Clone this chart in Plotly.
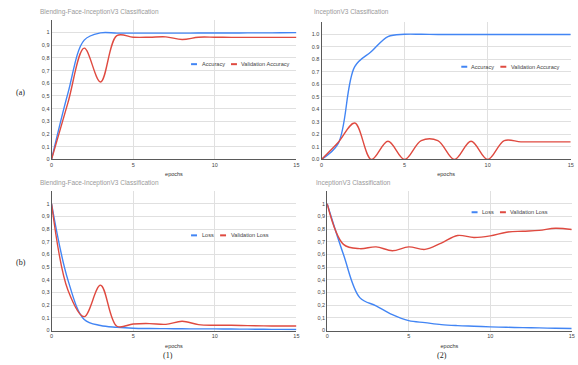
import plotly.graph_objects as go

W, H = 578, 365

epochs = list(range(16))

# Blending-Face-InceptionV3: accuracy
acc_blend = [0.0, 0.52, 0.94, 0.997, 0.995, 0.995, 0.995, 0.995, 0.995, 0.996,
             0.996, 0.996, 0.997, 0.997, 0.998, 0.999]
val_acc_blend = [0.0, 0.445, 0.877, 0.61, 0.975, 0.963, 0.963, 0.966, 0.945, 0.963,
                 0.963, 0.962, 0.962, 0.962, 0.962, 0.962]

# InceptionV3: accuracy
acc_incep = [0.0, 0.125, 0.74, 0.86, 0.98, 0.998, 0.998, 0.997, 0.997, 0.997,
             0.997, 0.997, 0.997, 0.997, 0.997, 0.997]
val_acc_incep = [0.0, 0.135, 0.29, 0.0, 0.145, 0.0, 0.15, 0.15, 0.0, 0.145,
                 0.0, 0.15, 0.14, 0.14, 0.14, 0.14]

# Blending-Face-InceptionV3: loss
loss_blend = [1.0, 0.40, 0.088, 0.04, 0.026, 0.018, 0.016, 0.015, 0.014, 0.013,
              0.013, 0.012, 0.011, 0.010, 0.009, 0.008]
val_loss_blend = [1.0, 0.32, 0.11, 0.358, 0.034, 0.052, 0.055, 0.049, 0.073, 0.047,
                  0.042, 0.042, 0.039, 0.037, 0.036, 0.036]

# InceptionV3: loss
loss_incep = [1.0, 0.60, 0.26, 0.195, 0.125, 0.078, 0.0625, 0.047, 0.039, 0.034,
              0.029, 0.026, 0.023, 0.021, 0.018, 0.016]
val_loss_incep = [1.0, 0.68, 0.646, 0.66, 0.63, 0.66, 0.64, 0.69, 0.75, 0.734,
                  0.747, 0.776, 0.784, 0.79, 0.807, 0.797]

titles = ["Blending-Face-InceptionV3 Classification", "InceptionV3 Classification",
          "Blending-Face-InceptionV3 Classification", "InceptionV3 Classification"]
series_names = [("Accuracy", "Validation Accuracy"), ("Accuracy", "Validation Accuracy"),
                ("Loss", "Validation Loss"), ("Loss", "Validation Loss")]
series_data = [(acc_blend, val_acc_blend), (acc_incep, val_acc_incep),
               (loss_blend, val_loss_blend), (loss_incep, val_loss_incep)]

y_ticks = [round(0.1 * i, 1) for i in range(11)]
comma_labels = ["0"] + [f"0,{i}" for i in range(1, 10)] + ["1"]
dot_labels = [f"{v:.1f}" for v in y_ticks]
tick_label_sets = [comma_labels, dot_labels, comma_labels, comma_labels]
x_ticks = [0, 5, 10, 15]

BLUE = "#4285F4"
RED = "#DF4A40"
FONT = "Liberation Sans"
GRID = "#e0e0e0"
AXIS = "#5a5a5a"

# plot areas in pixels: (left, right, top, bottom)
boxes = [(50, 297, 20, 160.7), (322.3, 573.7, 21.7, 160.7),
         (50, 297, 192.7, 333.3), (328, 574.7, 192.7, 333.3)]
title_pos = [(36.7, 12.6), (312.3, 12.6), (36.7, 184.7), (314.7, 184.7)]
# legend: (y, blue sample x, text x, red sample x, text x)
legend_pos = [(64.7, 190.7, 199.5, 231, 239.3),
              (67.3, 463.3, 471.5, 502.7, 511.0),
              (237.3, 190.7, 199.5, 220, 228.5),
              (214.0, 473.7, 482.2, 502.3, 510.8)]


def px(x):
    return x / W


def py(y):
    return 1 - y / H


fig = go.Figure()
shapes = []
annotations = []

for i in range(4):
    n = "" if i == 0 else str(i + 1)
    left, right, top, bottom = boxes[i]
    ymax = 1.1
    for vals, color, name in zip(series_data[i], (BLUE, RED), series_names[i]):
        fig.add_trace(go.Scatter(
            x=epochs, y=vals, mode="lines", name=name,
            line=dict(color=color, width=1.4, shape="spline", smoothing=1.0),
            xaxis="x" + n, yaxis="y" + n, showlegend=False,
        ))
    fig.update_layout(**{
        "xaxis" + n: dict(
            domain=[px(left), px(right)], anchor="y" + n, range=[0, 15],
            tickvals=x_ticks, ticktext=[str(v) for v in x_ticks],
            showgrid=True, gridcolor=GRID, gridwidth=1,
            showline=True, linecolor=AXIS, linewidth=1, zeroline=False,
            ticks="", tickfont=dict(family=FONT, size=5.5, color="#444"),
            title=dict(text="epochs", font=dict(family=FONT, size=5.5, color="#333"),
                       standoff=5),
            fixedrange=True,
        ),
        "yaxis" + n: dict(
            domain=[py(bottom), py(top)], anchor="x" + n, range=[0, ymax],
            tickvals=y_ticks + [1.1], ticktext=tick_label_sets[i] + [""],
            showgrid=True, gridcolor=GRID, gridwidth=1,
            showline=True, linecolor=AXIS, linewidth=1, zeroline=False,
            ticks="", tickfont=dict(family=FONT, size=5.5, color="#444"),
            fixedrange=True,
        ),
    })

    tx, ty = title_pos[i]
    annotations.append(dict(
        x=px(tx), y=py(ty), xref="paper", yref="paper", text=titles[i],
        showarrow=False, xanchor="left", yanchor="middle",
        font=dict(family=FONT, size=6.5, color="#9a9a9a"),
    ))

    ly, bx, btx, rx, rtx = legend_pos[i]
    for sx, color in ((bx, BLUE), (rx, RED)):
        shapes.append(dict(
            type="line", xref="paper", yref="paper",
            x0=px(sx), x1=px(sx + 6), y0=py(ly), y1=py(ly),
            line=dict(color=color, width=2),
        ))
    for tx2, label in ((btx, series_names[i][0]), (rtx, series_names[i][1])):
        annotations.append(dict(
            x=px(tx2), y=py(ly), xref="paper", yref="paper", text=label,
            showarrow=False, xanchor="left", yanchor="middle",
            font=dict(family=FONT, size=5.6, color="#444"),
        ))

# row / column captions
for text, x, y in (("(a)", 19, 93.3), ("(b)", 19, 264.3),
                   ("(1)", 167.3, 358.3), ("(2)", 444, 358.3)):
    annotations.append(dict(
        x=px(x), y=py(y), xref="paper", yref="paper", text=text,
        showarrow=False, xanchor="center", yanchor="middle",
        font=dict(family="Liberation Serif", size=8, color="#222"),
    ))

fig.update_layout(
    width=W, height=H, autosize=False,
    margin=dict(l=0, r=0, t=0, b=0),
    paper_bgcolor="white", plot_bgcolor="white",
    shapes=shapes, annotations=annotations,
    showlegend=False,
)

fig.write_html("out.html", config={"displayModeBar": False})
